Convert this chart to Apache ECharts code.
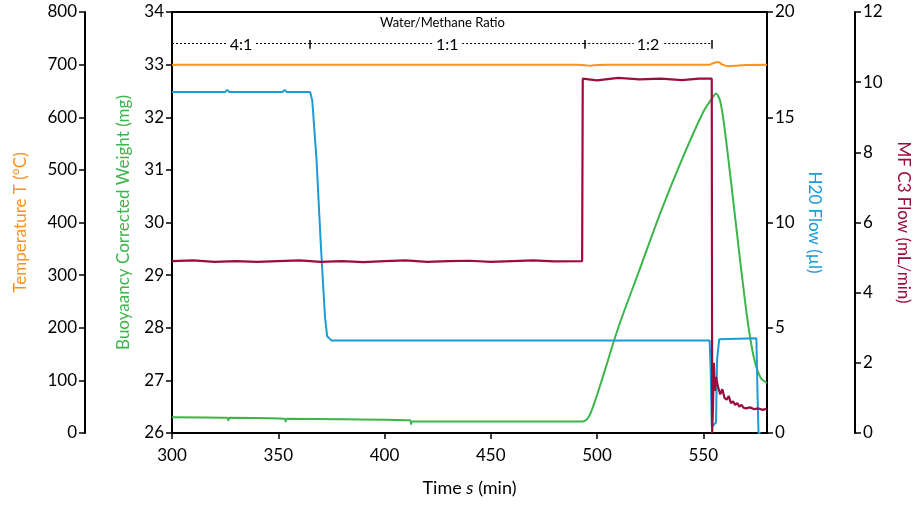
<!DOCTYPE html>
<html><head><meta charset="utf-8">
<script src="https://cdn.jsdelivr.net/npm/echarts@6/dist/echarts.min.js"></script>
<style>html,body{margin:0;padding:0;background:#fff}#c{width:920px;height:508px}</style>
</head><body><div id="c"></div>
<script>
const temperature = [[300,700],[490,700],[494,699],[497,698],[500,699.5],[505,700],[553,700],[555,703],[557,705],[559,700],[562,697],[566,698],[570,699.5],[580,700]];
const weight = [[300,26.3],[326,26.29],[326.5,26.24],[327,26.29],[353,26.27],[353.5,26.22],[354,26.27],[380,26.26],[412,26.24],[412.5,26.17],[413,26.22],[420,26.22],[460,26.22],[493,26.22],[496,26.3],[499,26.6],[503,27.1],[510,28.0],[520,29.1],[530,30.2],[540,31.2],[550,32.1],[554,32.35],[556,32.45],[558,32.3],[560,31.8],[563,30.8],[567,29.4],[571,28.1],[574,27.4],[577,27.05],[580,26.95]];
const h2oFlow = [[300,16.2],[325,16.2],[326,16.3],[327,16.2],[352,16.2],[353,16.3],[354,16.2],[365,16.2],[366,15.8],[368,13],[370,9],[372,5.5],[373,4.6],[375,4.4],[553,4.4],[553.5,3],[554,0.3],[556,0.5],[556.5,3.5],[557.5,4.45],[558,4.5],[575,4.5],[575.5,2],[576,0],[577,0]];
const mfFlow = [[300,4.9],[310,4.92],[320,4.88],[330,4.9],[340,4.88],[350,4.9],[360,4.92],[370,4.88],[380,4.9],[390,4.87],[400,4.9],[410,4.92],[420,4.88],[430,4.9],[440,4.91],[450,4.88],[460,4.9],[470,4.92],[480,4.89],[493,4.9],[493.3,10.1],[500,10.05],[510,10.12],[520,10.08],[530,10.1],[540,10.06],[548,10.1],[554,10.1],[554.2,0],[554.6,0.8],[555,2.0],[555.5,1.2],[556,1.6],[557,1.3],[558,1.1],[559,1.25],[560,1.0],[561,0.95],[562,1.05],[563,0.85],[564,0.9],[565,0.8],[566,0.85],[567,0.75],[568,0.8],[569,0.72],[570,0.7],[572,0.73],[574,0.68],[576,0.7],[578,0.66],[580,0.7]];
const ratioSegments = [{label:'4:1',from:300,to:365},{label:'1:1',from:365,to:494},{label:'1:2',from:494,to:554}];
const ratioLevel = 33.4;

const F = 'Lato';
const chart = echarts.init(document.getElementById('c'));
const axisCommon = {axisLine:{show:true,lineStyle:{color:'#000',width:2}},axisTick:{show:true,lineStyle:{color:'#000',width:1.5},length:6},
  axisLabel:{color:'#000',fontFamily:F,fontSize:17},splitLine:{show:false},nameLocation:'middle',nameTextStyle:{fontFamily:F,fontSize:17}};
const markLines = [];
ratioSegments.forEach(s=>{
  markLines.push([{coord:[s.from,ratioLevel],lineStyle:{type:[2,2],color:'#000',width:1},label:{show:true,position:'middle',distance:-9,formatter:s.label,color:'#000',fontFamily:F,fontSize:16,backgroundColor:'#fff',padding:[0,3]}},{coord:[s.to,ratioLevel]}]);
  markLines.push([{coord:[s.to,ratioLevel-0.1],lineStyle:{type:'solid',color:'#000',width:1.5},label:{show:false}},{coord:[s.to,ratioLevel+0.07]}]);
});
chart.setOption({
  animation:false,
  grid:{left:172,right:153,top:12,bottom:75,show:true,borderColor:'#000',borderWidth:2},
  graphic:[{type:'text',left:380,top:16,style:{text:'Water/Methane Ratio',font:'13px Lato',fill:'#000'}}],
  xAxis:{...axisCommon,type:'value',min:300,max:580,interval:50,name:'Time {i|s} (min)',nameGap:46,
    nameTextStyle:{fontFamily:F,fontSize:18,rich:{i:{fontFamily:F,fontSize:18,fontStyle:'italic'}}},axisLabel:{...axisCommon.axisLabel,margin:14,showMaxLabel:false}},
  yAxis:[
    {...axisCommon,type:'value',min:26,max:34,interval:1,position:'left',name:'Buoyaancy Corrected Weight (mg)',nameGap:40,nameTextStyle:{fontFamily:F,fontSize:17,color:'#3cb64a'}},
    {...axisCommon,type:'value',min:0,max:800,interval:100,position:'left',offset:87,name:'Temperature T (°C)',nameGap:56,nameTextStyle:{fontFamily:F,fontSize:17,color:'#f7931e'}},
    {...axisCommon,type:'value',min:0,max:20,interval:5,position:'right',name:'H20 Flow (µl)',nameGap:28,nameRotate:-90,nameTextStyle:{fontFamily:F,fontSize:17,color:'#1e9ad6'}},
    {...axisCommon,type:'value',min:0,max:12,interval:2,position:'right',offset:88,name:'MF C3 Flow (mL/min)',nameGap:40,nameRotate:-90,nameTextStyle:{fontFamily:F,fontSize:17,color:'#9b0d3a'}}
  ],
  series:[
    {type:'line',yAxisIndex:1,data:temperature,showSymbol:false,smooth:0.3,lineStyle:{color:'#f7931e',width:2}},
    {type:'line',yAxisIndex:0,data:weight,showSymbol:false,smooth:0.3,lineStyle:{color:'#3cb64a',width:2},
      markLine:{symbol:'none',silent:true,data:markLines}},
    {type:'line',yAxisIndex:2,data:h2oFlow,showSymbol:false,lineStyle:{color:'#1e9ad6',width:2}},
    {type:'line',yAxisIndex:3,data:mfFlow,showSymbol:false,lineStyle:{color:'#9b0d3a',width:2.2}}
  ]
});
</script></body></html>
